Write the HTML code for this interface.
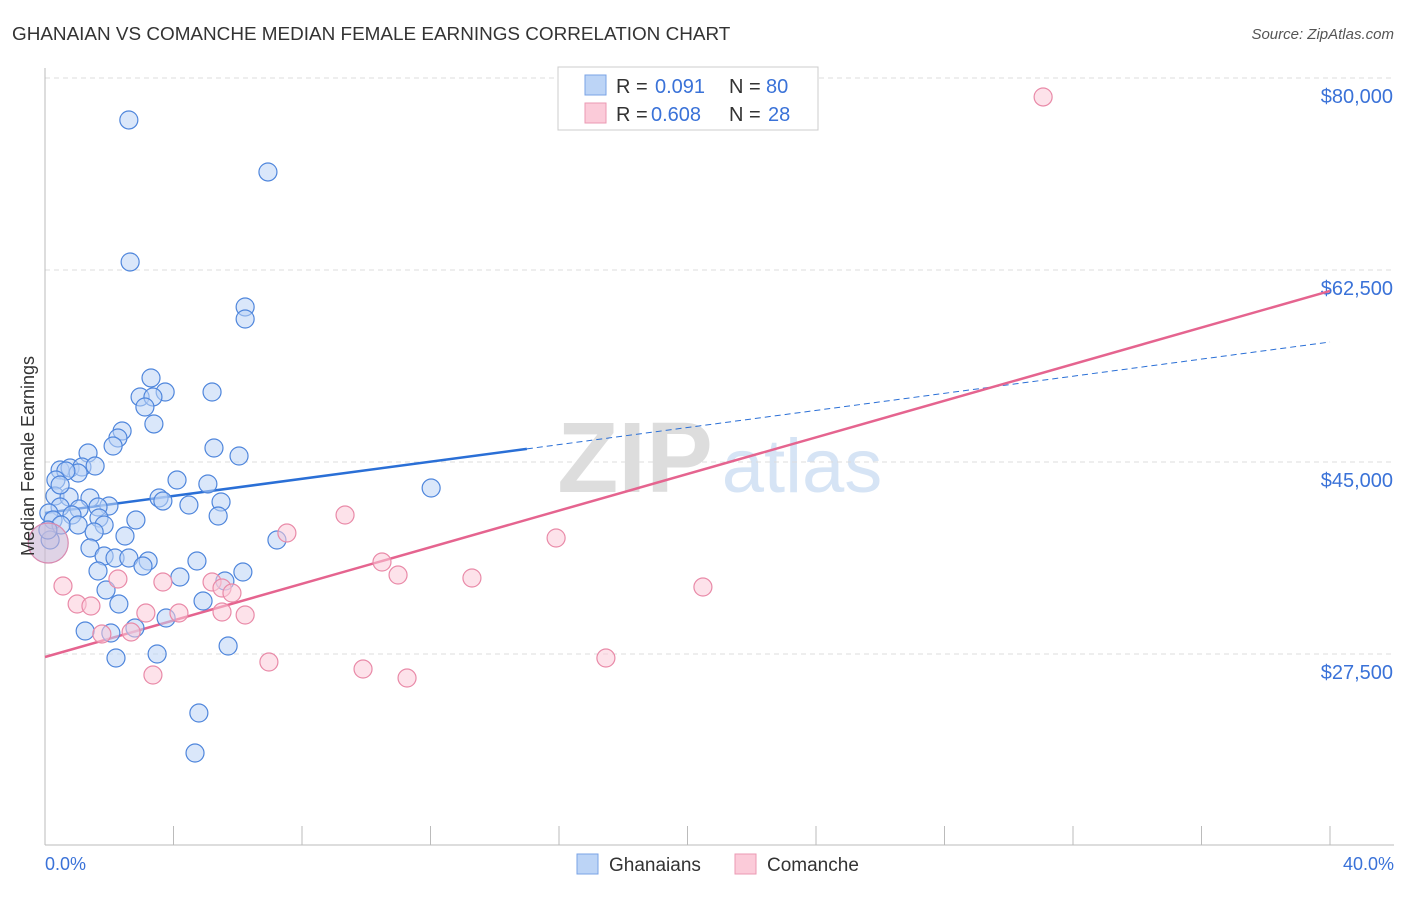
<!DOCTYPE html>
<html><head><meta charset="utf-8"><style>
body{margin:0;background:#fff;font-family:"Liberation Sans",sans-serif}
svg text{font-family:"Liberation Sans",sans-serif}
</style></head><body>
<svg id="c" width="1406" height="892" xmlns="http://www.w3.org/2000/svg">
<text x="12" y="40" font-size="18.9" fill="#333">GHANAIAN VS COMANCHE MEDIAN FEMALE EARNINGS CORRELATION CHART</text>
<text x="1394" y="39" font-size="15" fill="#555" font-style="italic" text-anchor="end">Source: ZipAtlas.com</text>
<g>
<text x="635" y="492" font-size="100" fill="#ddd" font-family="Liberation Serif" text-anchor="middle" font-weight="bold">ZIP</text>
<text x="802" y="492" font-size="76" fill="#d6e4f5" text-anchor="middle">atlas</text>
</g>
<g id="grid"></g>
<g id="axes"></g>
<g id="lines"></g>
<g id="pts"></g>
<text transform="translate(34,456) rotate(-90)" font-size="18" fill="#333" text-anchor="middle">Median Female Earnings</text>
<text x="45" y="870" font-size="18" fill="#3a72d8">0.0%</text>
<text x="1394" y="870" font-size="18" fill="#3a72d8" text-anchor="end">40.0%</text>
<g>
<rect x="558" y="67" width="260" height="63" fill="#fff" stroke="#ccc"/>
<rect x="585" y="75" width="21" height="20" fill="#bcd4f6" stroke="#7aa3e6"/>
<rect x="585" y="103" width="21" height="20" fill="#fbcbd9" stroke="#eb9ab3"/>
<text y="93" font-size="20" fill="#333"><tspan x="616">R =</tspan><tspan x="655" fill="#3a72d8">0.091</tspan><tspan x="729">N =</tspan><tspan x="766" fill="#3a72d8">80</tspan></text>
<text y="121" font-size="20" fill="#333"><tspan x="616">R =</tspan><tspan x="651" fill="#3a72d8">0.608</tspan><tspan x="729">N =</tspan><tspan x="768" fill="#3a72d8">28</tspan></text>
</g>
<g>
<rect x="577" y="854" width="21" height="20" fill="#bcd4f6" stroke="#7aa3e6"/>
<text x="609" y="871" font-size="19" fill="#333">Ghanaians</text>
<rect x="735" y="854" width="21" height="20" fill="#fbcbd9" stroke="#eb9ab3"/>
<text x="767" y="871" font-size="19" fill="#333">Comanche</text>
</g>
</svg>
<script>
const yTicks=[27500,45000,62500,80000];
const yTickLabels=["$27,500","$45,000","$62,500","$80,000"];
const xTicks=[0,4,8,12,16,20,24,28,32,36,40];
const blueX=[2.61,6.94,2.65,6.23,6.23,3.30,3.74,5.20,2.96,3.36,3.11,3.39,2.40,2.27,2.12,5.26,1.34,6.04,0.47,0.78,1.15,1.56,1.03,0.65,0.34,4.11,12.02,5.07,0.31,0.75,1.40,3.55,3.67,1.99,4.48,5.48,1.65,0.47,1.06,0.12,0.84,1.68,5.39,2.83,0.25,1.03,1.84,0.50,1.53,2.49,7.22,1.40,1.84,2.18,2.61,4.73,3.21,3.05,1.65,6.16,4.20,5.60,1.90,4.92,2.30,3.77,2.80,1.25,2.05,2.21,3.49,5.70,4.79,4.67,0.16,0.09,0.47];
const blueY=[76173,71434,63230,59128,58034,52657,51380,51380,50925,50925,50013,48464,47826,47188,46458,46276,45820,45547,44271,44453,44544,44635,43997,44180,43359,43359,42630,42995,41901,41810,41719,41719,41445,40989,41080,41354,40898,40898,40716,40351,40169,39896,40078,39713,39713,39258,39258,39258,38620,38255,37890,37161,36432,36250,36250,35976,35976,35520,35064,34973,34518,34153,33333,32330,32057,30781,29869,29596,29413,27135,27500,28228,22121,18475,37890,38802,42904];
const pinkX=[31.07,9.34,7.53,15.91,10.49,10.99,13.29,20.48,0.56,2.27,3.67,5.20,5.51,5.82,1.00,1.43,3.14,4.17,5.51,6.23,2.68,1.77,6.97,9.90,17.46,3.36,11.27];
const pinkY=[78270,40169,38528,38073,35885,34700,34427,33606,33697,34335,34062,34062,33515,33059,32057,31874,31236,31236,31327,31054,29504,29322,26770,26132,27135,25585,25312];
const blueTrend=[40351,55937];
const blueSolidEnd=15.0;
const pinkTrend=[27226,60590];
const NS='http://www.w3.org/2000/svg';
const X=v=>45+v/40*1285, Y=v=>462-(v-45000)*192/17500;
function mk(t,a,p){const e=document.createElementNS(NS,t);for(const k in a)e.setAttribute(k,a[k]);document.getElementById(p).appendChild(e);return e;}
yTicks.forEach((t,i)=>{
 const l=mk('line',{x1:45,x2:1394,y1:Y(t),y2:Y(t),stroke:'#ddd','stroke-dasharray':'5,4'},'grid');
 
 
 const tx=mk('text',{x:1393,y:Y(t)+25,'font-size':20,fill:'#3a72d8','text-anchor':'end'},'grid');
 tx.textContent=yTickLabels[i];
 
 
});
const ax=mk('line',{x1:45,x2:45,y1:68,y2:845,stroke:'#bbb'},'axes');


const bx=mk('line',{x1:45,x2:1394,y1:845,y2:845,stroke:'#bbb'},'axes');


xTicks.forEach(t=>{const l=mk('line',{x1:X(t),x2:X(t),y1:826,y2:845,stroke:'#bbb'},'axes');
 
 });
function pt(x,y,f,s,r,name){const c=mk('circle',{cx:X(x),cy:Y(y),r:r,fill:f,'fill-opacity':0.55,stroke:s,'stroke-width':1.2},'pts');
 
 }
blueX.forEach((x,i)=>pt(x,blueY[i],'#bcd4f6','#4f86dc',9,'ghanaian-point'));
pinkX.forEach((x,i)=>pt(x,pinkY[i],'#fbcbd9','#e98aa8',9,'comanche-point'));
const big=mk('circle',{cx:X(0.1),cy:Y(37617),r:20,fill:'#c9b5d6','fill-opacity':0.6,stroke:'#d88ab0','stroke-width':1.2},'pts');


const bAt=x=>blueTrend[0]+(blueTrend[1]-blueTrend[0])*x/40;
const l1=mk('line',{x1:X(0),y1:Y(bAt(0)),x2:X(blueSolidEnd),y2:Y(bAt(blueSolidEnd)),stroke:'#2a6fd6','stroke-width':2.5},'lines');


const l2=mk('line',{x1:X(blueSolidEnd),y1:Y(bAt(blueSolidEnd)),x2:X(40),y2:Y(bAt(40)),stroke:'#2a6fd6','stroke-width':1,'stroke-dasharray':'6,4'},'lines');


const l3=mk('line',{x1:X(0),y1:Y(pinkTrend[0]),x2:X(40),y2:Y(pinkTrend[1]),stroke:'#e5648f','stroke-width':2.5},'lines');


</script>
</body></html>
